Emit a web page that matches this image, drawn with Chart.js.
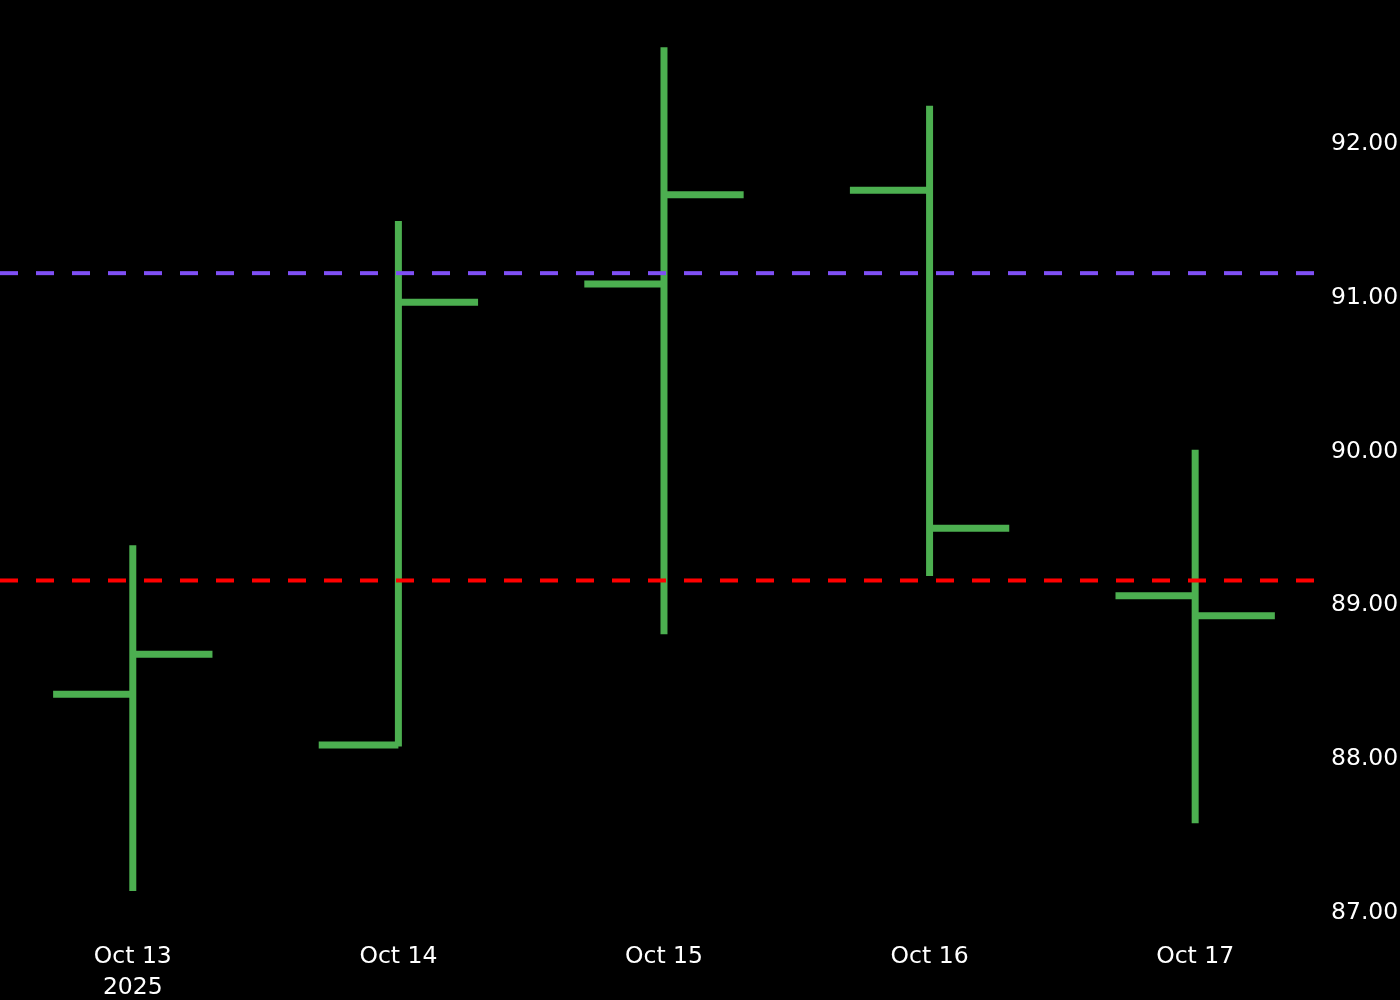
<!DOCTYPE html>
<html>
<head>
<meta charset="utf-8">
<script src="https://cdn.jsdelivr.net/npm/chart.js@4.4.1/dist/chart.umd.min.js"></script>
<style>
    body { margin: 0; background: #000; }
    #wrap { width: 1400px; height: 1000px; }
</style>
</head>
<body>
<div id="wrap"><canvas id="ohlc" width="1400" height="1000"></canvas></div>
<script>
const dates = ['Oct 13', 'Oct 14', 'Oct 15', 'Oct 16', 'Oct 17'];
const year = '2025';
const opens = [88.42, 88.09, 91.09, 91.70, 89.06];
const highs = [89.39, 91.50, 92.63, 92.25, 90.01];
const lows = [87.14, 88.08, 88.81, 89.19, 87.58];
const closes = [88.68, 90.97, 91.67, 89.50, 88.93];
const upperLevel = 91.16;
const lowerLevel = 89.16;
const yTicks = [87, 88, 89, 90, 91, 92];

const xMin = -0.5, xMax = 4.47;
const tickW = 0.3;

// one line dataset, segments split with null points
const bars = [];
dates.forEach((d, i) => {
    bars.push({x: i, y: lows[i]}, {x: i, y: highs[i]}, {x: i, y: null});
    bars.push({x: i - tickW, y: opens[i]}, {x: i, y: opens[i]}, {x: i, y: null});
    bars.push({x: i, y: closes[i]}, {x: i + tickW, y: closes[i]}, {x: i, y: null});
});

const font = {family: 'DejaVu Sans', size: 23.5, lineHeight: 1.32};

new Chart(document.getElementById('ohlc'), {
    type: 'line',
    data: {
        datasets: [
            {
                data: [{x: xMin, y: upperLevel}, {x: xMax, y: upperLevel}],
                borderColor: '#7f4ff5',
                borderWidth: 4,
                borderDash: [18, 18],
                pointRadius: 0
            },
            {
                data: [{x: xMin, y: lowerLevel}, {x: xMax, y: lowerLevel}],
                borderColor: '#ff0000',
                borderWidth: 4,
                borderDash: [18, 18],
                pointRadius: 0
            },
            {
                data: bars,
                borderColor: '#4caf50',
                borderWidth: 7,
                borderCapStyle: 'butt',
                pointRadius: 0,
                spanGaps: false
            }
        ]
    },
    options: {
        responsive: false,
        animation: false,
        events: [],
        layout: {padding: 0},
        plugins: {
            legend: {display: false},
            tooltip: {enabled: false}
        },
        scales: {
            x: {
                type: 'linear',
                min: xMin,
                max: xMax,
                grid: {display: false, drawTicks: false},
                border: {display: false},
                afterBuildTicks: s => { s.ticks = dates.map((d, i) => ({value: i})); },
                afterFit: s => { s.height = 63; },
                ticks: {
                    color: '#fff',
                    font: font,
                    padding: 4,
                    maxRotation: 0,
                    autoSkip: false,
                    callback: v => v === 0 ? [dates[0], year] : dates[v]
                }
            },
            y: {
                position: 'right',
                min: 86.84,
                max: 92.765,
                grid: {display: false, drawTicks: false},
                border: {display: false},
                afterBuildTicks: s => { s.ticks = yTicks.map(v => ({value: v})); },
                afterFit: s => { s.width = 80; },
                ticks: {
                    color: '#fff',
                    font: font,
                    padding: 11,
                    callback: v => v.toFixed(2)
                }
            }
        }
    }
});
</script>
</body>
</html>
